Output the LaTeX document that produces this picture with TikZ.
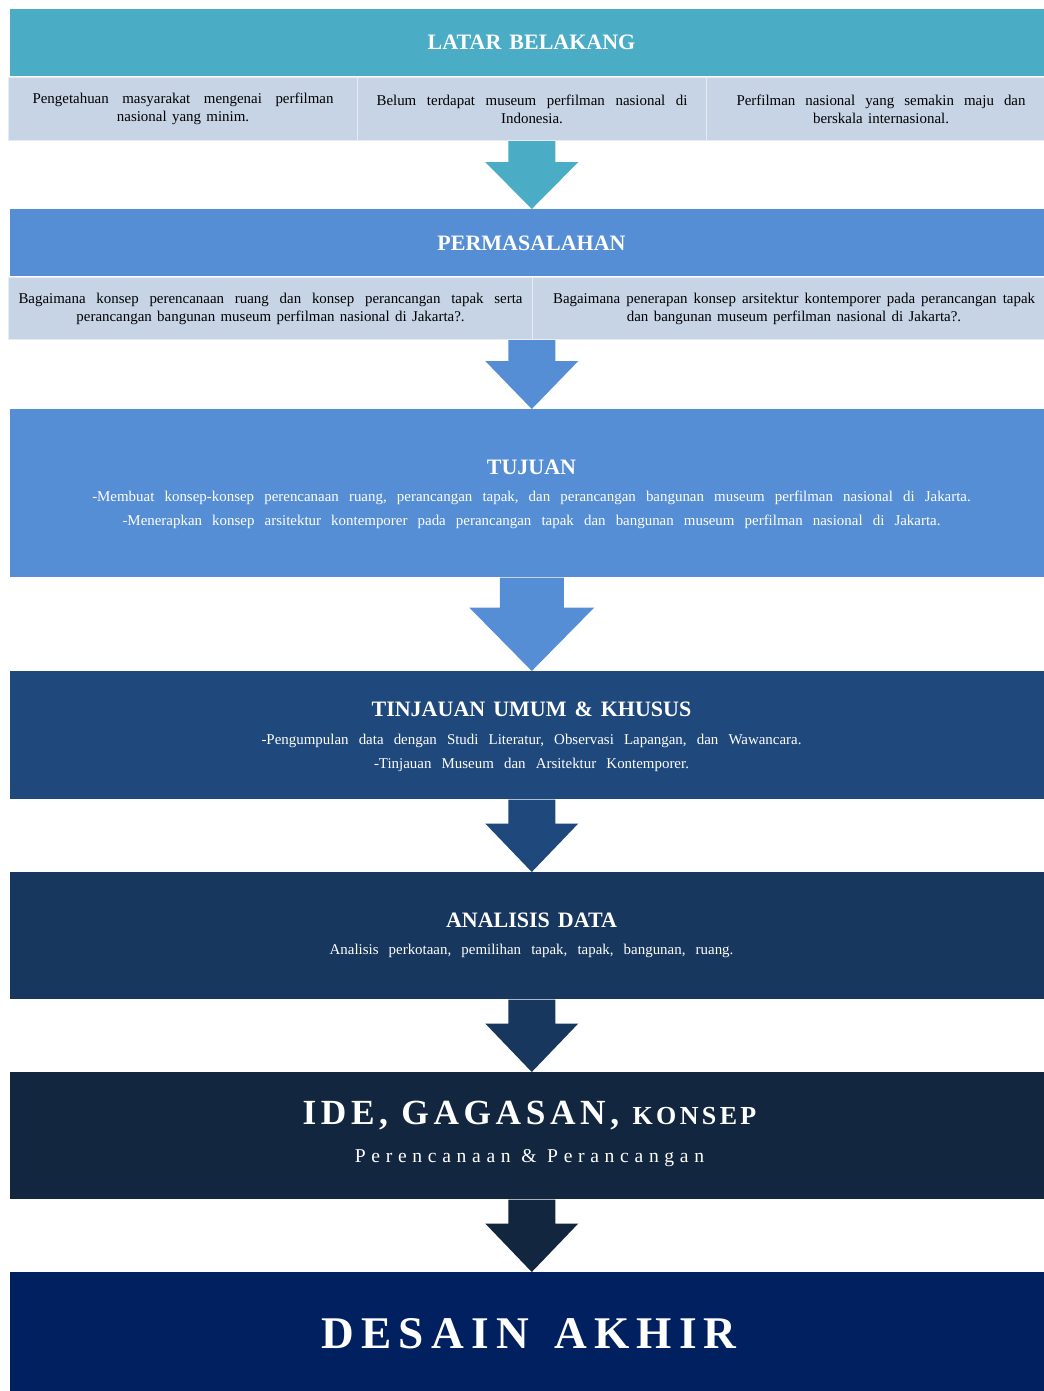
\documentclass[tikz,border=0pt]{standalone}
\usepackage{fontspec}
\setmainfont{Liberation Serif}
\usetikzlibrary{calc}

\definecolor{latarblue}{HTML}{4BACC6}
\definecolor{masalahblue}{HTML}{558ED5}
\definecolor{cellgrey}{HTML}{C6D4E6}
\definecolor{tinjauanblue}{HTML}{1F497D}
\definecolor{analisisblue}{HTML}{17375E}
\definecolor{idenavy}{HTML}{12263F}
\definecolor{desainnavy}{HTML}{002060}

\newcommand{\justcentre}{%
    \tolerance=10000 \leftskip=0pt plus 1fil \rightskip=0pt plus -1fil
    \parfillskip=0pt plus 2fil \spaceskip=4pt plus 20pt\relax}
\newcommand{\widespace}[1]{\spaceskip=#1\relax}

\newcommand{\blockarrow}[6]{%
    \coordinate (neck) at (#3.north |- #2);
    \fill[#1] ($(neck)+(-#4,0)$) -- ($(neck)+(#4,0)$) -- ($(neck)+(#4,#6)$)
        -- ($(neck)+(#5,#6)$) -- (#3.north) -- ($(neck)+(-#5,#6)$)
        -- ($(neck)+(-#4,#6)$) -- cycle;
}

\begin{document}
\begin{tikzpicture}[
    x=0.75pt, y=-0.75pt,
    stage/.style={
        anchor=north west,
        minimum width=782.25pt,
        inner sep=0pt
    },
    cell/.style={
        anchor=north west,
        fill=cellgrey,
        draw=cellgrey!45!white,
        line width=0.8pt,
        inner sep=0pt
    },
    celltext/.style={
        inner sep=0pt,
        text width=#1,
        font=\fontsize{11.2}{13.5}\selectfont,
        execute at begin node=\justcentre
    },
    stagetitle/.style={
        text=white,
        inner sep=0pt,
        font={\bfseries\fontsize{16.5}{19}\selectfont\widespace{6pt}}
    },
    stagetext/.style={
        text=white,
        inner sep=0pt,
        align=center,
        font={\fontsize{11.2}{18}\selectfont\widespace{7.6pt}}
    }
]
    \useasboundingbox[fill=white] (0,0) rectangle (1044,1391);

    \node[stage, fill=latarblue, minimum height=50.25pt] (latar) at (10,9) {};
    \node[cell, minimum width=261.75pt, minimum height=47.25pt] (m1) at (8,77) {};
    \node[cell, minimum width=261.75pt, minimum height=47.25pt] (m2) at (357,77) {};
    \node[cell, minimum width=261.75pt, minimum height=47.25pt] (m3) at (706,77) {};
    \node[celltext=225.75pt] (m1text) at (m1)
        {Pengetahuan masyarakat mengenai perfilman nasional yang minim.};
    \node[celltext=233.25pt] (m2text) at (m2)
        {Belum terdapat museum perfilman nasional di Indonesia.};
    \node[celltext=216.75pt] (m3text) at (m3)
        {Perfilman nasional yang semakin maju dan berskala internasional.};

    \node[stage, fill=masalahblue, minimum height=50.25pt] (masalah) at (10,209) {};
    \node[cell, minimum width=393pt, minimum height=46.5pt] (q1) at (8,277) {};
    \node[cell, minimum width=392.25pt, minimum height=46.5pt] (q2) at (532,277) {};
    \node[celltext=378pt] (q1text) at (q1)
        {Bagaimana konsep perencanaan ruang dan konsep perancangan tapak serta perancangan bangunan museum perfilman nasional di Jakarta?.};
    \node[celltext=361.5pt] (q2text) at (q2)
        {Bagaimana penerapan konsep arsitektur kontemporer pada perancangan tapak dan bangunan museum perfilman nasional di Jakarta?.};

    \node[stage, fill=masalahblue, minimum height=126pt] (tujuan) at (10,409) {};
    \node[stage, fill=tinjauanblue, minimum height=96pt] (tinjauan) at (10,671) {};
    \node[stage, fill=analisisblue, minimum height=95.25pt] (analisis) at (10,872) {};
    \node[stage, fill=idenavy, minimum height=95.25pt] (ide) at (10,1072) {};
    \node[stage, fill=desainnavy, minimum height=95.25pt] (desain) at (10,1272) {};

    \node[stagetitle] (latartitle) at (531.5,42) {LATAR BELAKANG};
    \node[stagetitle] (masalahtitle) at (531.5,243) {PERMASALAHAN};
    \node[stagetitle] (tujuantitle) at (531.5,467) {TUJUAN};
    \node[stagetext] (tujuantext) at (531.5,510)
        {-Membuat konsep-konsep perencanaan ruang, perancangan tapak, dan perancangan bangunan museum perfilman nasional di Jakarta.\\
         -Menerapkan konsep arsitektur kontemporer pada perancangan tapak dan bangunan museum perfilman nasional di Jakarta.};
    \node[stagetitle] (tinjauantitle) at (531.5,709) {TINJAUAN UMUM \& KHUSUS};
    \node[stagetext] (tinjauantext) at (531.5,753)
        {-Pengumpulan data dengan Studi Literatur, Observasi Lapangan, dan Wawancara.\\
         -Tinjauan Museum dan Arsitektur Kontemporer.};
    \node[stagetitle] (analisistitle) at (531.5,920) {ANALISIS DATA};
    \node[stagetext] (analisistext) at (531.5,951)
        {Analisis perkotaan, pemilihan tapak, tapak, bangunan, ruang.};
    \node[stagetitle, font={\bfseries\fontsize{26.5}{30}\selectfont\addfontfeature{LetterSpace=13}}] (idetitle) at (529.5,1116)
        {IDE, GAGASAN, {\fontsize{19.5}{24}\selectfont KONSEP}};
    \node[stagetitle, font={\fontsize{14.7}{18}\selectfont\addfontfeature{LetterSpace=29}}] (idetext) at (529.5,1158)
        {Perencanaan \& Perancangan};
    \node[stagetitle, font={\bfseries\fontsize{34}{40}\selectfont\addfontfeature{LetterSpace=16}}] (desaintitle) at (529,1334)
        {DESAIN\hspace{5pt} AKHIR};

    \blockarrow{latarblue}{m2.south}{masalah}{23.5}{46.5}{21}
    \blockarrow{masalahblue}{q1.south east}{tujuan}{23.5}{46.5}{21}
    \blockarrow{masalahblue}{tujuan.south}{tinjauan}{32}{62.5}{30}
    \blockarrow{tinjauanblue}{tinjauan.south}{analisis}{23.5}{46.5}{24}
    \blockarrow{analisisblue}{analisis.south}{ide}{23.5}{46.5}{24}
    \blockarrow{idenavy}{ide.south}{desain}{23.5}{46.5}{24}
\end{tikzpicture}
\end{document}
